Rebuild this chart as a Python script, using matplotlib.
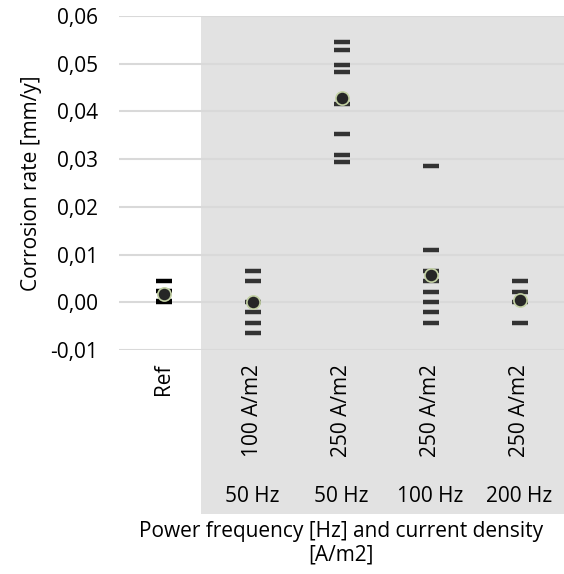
import matplotlib
matplotlib.use("Agg")
import matplotlib.pyplot as plt
from matplotlib.patches import Rectangle
from matplotlib.ticker import FuncFormatter
from matplotlib import transforms

plt.rcParams['font.family'] = ['Open Sans', 'DejaVu Sans']

categories = ["Ref", "100 A/m2", "250 A/m2", "250 A/m2", "250 A/m2"]
frequencies = ["", "50 Hz", "50 Hz", "100 Hz", "200 Hz"]

# individual measurements per group
samples = [
    [0.0044, 0.0023, 0.0002, 0.0000],
    [0.0065, 0.0044, 0.0000, -0.0021, -0.0044, -0.0065],
    [0.0545, 0.0528, 0.0497, 0.0482, 0.0415, 0.0352, 0.0309, 0.0293],
    [0.0285, 0.0109, 0.0065, 0.0044, 0.0021, 0.0000, -0.0021, -0.0044],
    [0.0044, 0.0021, 0.0000, -0.0044],
]
means = [0.0017, 0.0000, 0.0428, 0.0057, 0.0004]
sample_colors = ["#000000", "#333333", "#333333", "#333333", "#333333"]

FS = 15

fig = plt.figure(figsize=(5.64, 5.74), dpi=100)
ax = fig.add_axes([119 / 564, 1 - 350 / 574, 445 / 564, 334 / 574])
ax.patch.set_visible(False)

# grey background for the powered groups (extends under the category labels)
fig.add_artist(Rectangle((201 / 564, 1 - 514 / 574), 1 - 201 / 564, 498 / 574,
                         transform=fig.transFigure, facecolor="#e2e2e2",
                         edgecolor="none", zorder=-5))

for i, vals in enumerate(samples):
    ax.plot([i] * len(vals), vals, linestyle="none", marker="_", ms=11,
            mew=3.2, color=sample_colors[i], zorder=3)
    ax.plot(i, means[i], linestyle="none", marker="o", ms=9.5,
            mfc="#262626", mec="#c3d1a4", mew=1.2, zorder=4)

ax.set_xlim(-0.5, 4.5)
ax.set_ylim(-0.01, 0.06)
ax.set_yticks([-0.01, 0.0, 0.01, 0.02, 0.03, 0.04, 0.05, 0.06])
ax.yaxis.set_major_formatter(FuncFormatter(lambda v, p: f"{v:.2f}".replace(".", ",")))
ax.grid(axis="y", color="#d9d9d9", linewidth=1.5, zorder=0)
ax.set_axisbelow(True)
for s in ax.spines.values():
    s.set_visible(False)
ax.tick_params(axis="y", length=0, pad=15, labelsize=FS, colors="black")
ax.tick_params(axis="x", length=0, pad=10, labelsize=FS)
ax.set_xticks(range(len(categories)))
ax.set_xticklabels(categories, rotation=90, va="top")

freq_trans = transforms.blended_transform_factory(ax.transData, fig.transFigure)
for i, f in enumerate(frequencies):
    if f:
        ax.text(i, 1 - 497 / 574, f, transform=freq_trans,
                ha="center", va="center", fontsize=FS)

ax.set_ylabel("Corrosion rate [mm/y]", fontsize=FS, labelpad=6)
fig.text(341 / 564, 1 - 531 / 574, "Power frequency [Hz] and current density",
         ha="center", va="center", fontsize=FS)
fig.text(341 / 564, 1 - 555 / 574, "[A/m2]", ha="center", va="center", fontsize=FS)

fig.savefig("out.png", dpi=100)
